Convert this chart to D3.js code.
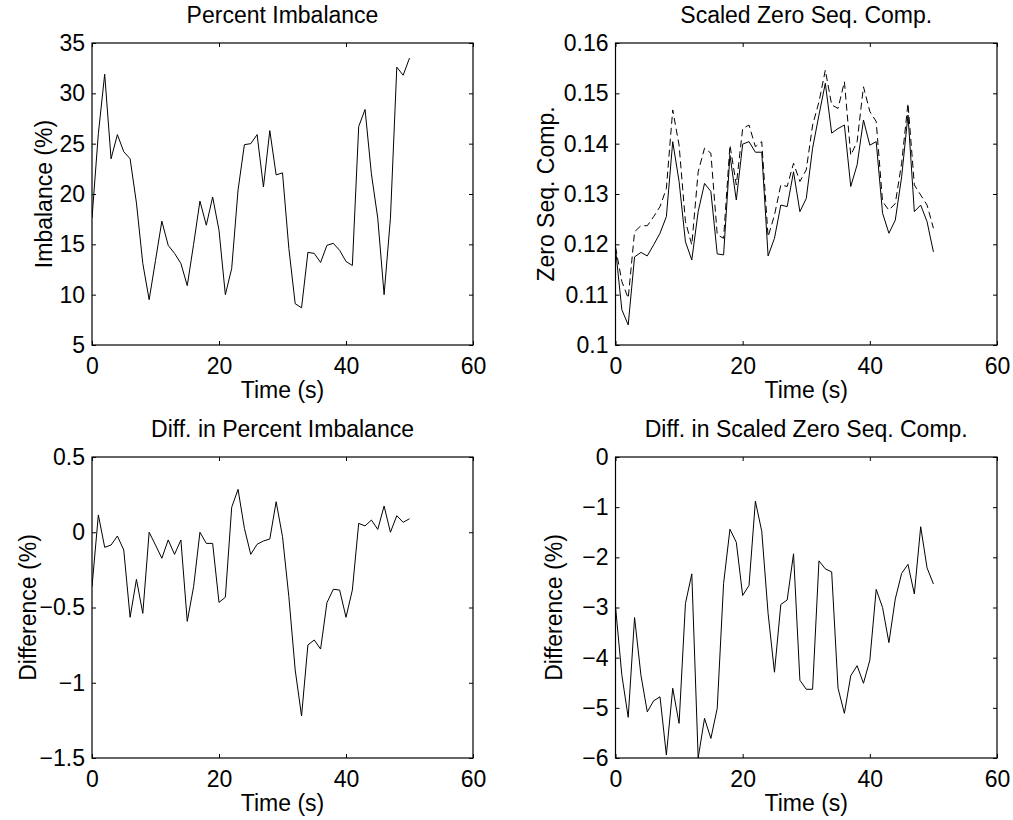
<!DOCTYPE html>
<html>
<head>
<meta charset="utf-8">
<script src="https://cdn.jsdelivr.net/npm/d3@7"></script>
<style>
  body { margin: 0; background: #fff; }
  svg { display: block; }
  text { font-family: "Liberation Sans", Arial, Helvetica, sans-serif; fill: #000; }
</style>
</head>
<body>
<div id="chart"></div>
<script>
// time axis (s), one sample per second
const timeSec = [0,1,2,3,4,5,6,7,8,9,10,11,12,13,14,15,16,17,18,19,20,21,22,23,24,25,
  26,27,28,29,30,31,32,33,34,35,36,37,38,39,40,41,42,43,44,45,46,47,48,49,50];

// Percent Imbalance (%)
const imbalance = [17.6,26.0,31.9,23.5,25.9,24.2,23.5,19.1,13.1,9.5,13.4,17.3,14.9,14.1,13.1,10.9,
  15.0,19.3,16.9,19.7,16.4,10.0,12.6,20.4,24.9,25.0,25.9,20.7,26.3,21.9,22.1,14.6,9.1,8.7,
  14.2,14.1,13.2,14.9,15.1,14.4,13.3,12.9,26.7,28.4,22.0,17.6,10.0,17.6,32.6,31.8,33.5];

// Scaled zero sequence component, solid and dashed traces
const zeroSeqA = [0.1192,0.1070,0.1040,0.1175,0.1184,0.1177,0.1199,0.1222,0.1255,0.1404,0.1325,
  0.1205,0.1169,0.1265,0.1321,0.1305,0.1181,0.1179,0.1377,0.1288,0.1399,0.1404,0.1383,0.1383,
  0.1177,0.1212,0.1278,0.1275,0.1344,0.1265,0.1291,0.1391,0.1457,0.1520,0.1421,0.1430,0.1437,
  0.1315,0.1358,0.1447,0.1397,0.1404,0.1262,0.1222,0.1248,0.1334,0.1457,0.1265,0.1278,0.1245,0.1185];
const zeroSeqB = [0.1195,0.1126,0.1093,0.1225,0.1237,0.1237,0.1255,0.1275,0.1311,0.1467,0.1397,
  0.1245,0.1199,0.1344,0.1391,0.1381,0.1219,0.1212,0.1397,0.1318,0.1430,0.1437,0.1394,0.1404,
  0.1215,0.1258,0.1318,0.1315,0.1361,0.1325,0.1348,0.1437,0.1483,0.1546,0.1477,0.1470,0.1523,
  0.1377,0.1404,0.1513,0.1464,0.1444,0.1285,0.1268,0.1281,0.1361,0.1480,0.1318,0.1298,0.1278,0.1232];

// Difference in percent imbalance (%)
const diffImbalance = [-0.362,0.115,-0.100,-0.085,-0.025,-0.118,-0.565,-0.313,-0.539,0.0,-0.085,
  -0.173,-0.051,-0.147,-0.051,-0.592,-0.362,0.0,-0.074,-0.074,-0.466,-0.432,0.166,0.285,0.026,
  -0.147,-0.080,-0.058,-0.045,0.203,-0.029,-0.428,-0.915,-1.221,-0.749,-0.716,-0.776,-0.468,
  -0.379,-0.384,-0.565,-0.384,0.059,0.042,0.081,0.019,0.174,0.0,0.110,0.066,0.090];

// Difference in scaled zero sequence component (%)
const diffZeroSeq = [-2.98,-4.35,-5.19,-3.20,-4.35,-5.08,-4.86,-4.78,-5.94,-4.61,-5.31,-2.92,-2.33,
  -6.00,-5.21,-5.61,-5.01,-2.52,-1.44,-1.70,-2.76,-2.56,-0.88,-1.48,-3.12,-4.29,-2.94,-2.85,-1.93,
  -4.45,-4.63,-4.63,-2.07,-2.23,-2.29,-4.61,-5.11,-4.36,-4.16,-4.51,-4.05,-2.64,-3.00,-3.70,-2.83,
  -2.32,-2.14,-2.73,-1.39,-2.21,-2.53];

// tick values
const xTicks = [0, 20, 40, 60];
const yTicksImb = [5, 10, 15, 20, 25, 30, 35];
const yTicksZero = [0.1, 0.11, 0.12, 0.13, 0.14, 0.15, 0.16];
const yTicksDiffImb = [-1.5, -1, -0.5, 0, 0.5];
const yTicksDiffZero = [-6, -5, -4, -3, -2, -1, 0];

const titles = ["Percent Imbalance", "Scaled Zero Seq. Comp.", "Diff. in Percent Imbalance", "Diff. in Scaled Zero Seq. Comp."];
const yLabels = ["Imbalance (%)", "Zero Seq. Comp.", "Difference (%)", "Difference (%)"];
const xLabel = "Time (s)";

const width = 1013, height = 820;
const fontSize = 23;
const tickLen = 4;

const svg = d3.select("#chart").append("svg")
  .attr("width", width)
  .attr("height", height);

// minus sign like the original (U+2212)
const fmt = d => (d < 0 ? "\u2212" : "") + Math.abs(d);

function drawPanel(cfg) {
  const g = svg.append("g").attr("transform", `translate(${cfg.left},${cfg.top})`);
  const w = cfg.w, h = cfg.h;

  const x = d3.scaleLinear().domain([0, 60]).range([0, w]);
  const y = d3.scaleLinear().domain(cfg.yDomain).range([h, 0]);

  const line = d3.line()
    .x((d, i) => x(timeSec[i]))
    .y(d => y(d));

  g.append("clipPath").attr("id", "clip" + cfg.id)
    .append("rect").attr("width", w).attr("height", h);

  cfg.series.forEach(s => {
    g.append("path")
      .datum(s.values)
      .attr("clip-path", `url(#clip${cfg.id})`)
      .attr("fill", "none")
      .attr("stroke", "#000")
      .attr("stroke-width", 1)
      .attr("stroke-dasharray", s.dashed ? "7,4" : null)
      .attr("d", line);
  });

  // axes, ticks point inward like matlab
  const styleAxis = sel => {
    sel.select(".domain").remove();
    sel.selectAll("line").attr("stroke", "#000");
    sel.selectAll("text").style("font-size", fontSize + "px").attr("fill", "#000");
  };

  g.append("g").attr("transform", `translate(0,${h})`)
    .call(d3.axisBottom(x).tickValues(xTicks).tickFormat(fmt).tickSize(-tickLen).tickPadding(13))
    .call(styleAxis);
  g.append("g")
    .call(d3.axisTop(x).tickValues(xTicks).tickFormat("").tickSize(-tickLen))
    .call(styleAxis);
  g.append("g")
    .call(d3.axisLeft(y).tickValues(cfg.yTicks).tickFormat(fmt).tickSize(-tickLen).tickPadding(7))
    .call(styleAxis);
  g.append("g").attr("transform", `translate(${w},0)`)
    .call(d3.axisRight(y).tickValues(cfg.yTicks).tickFormat("").tickSize(-tickLen))
    .call(styleAxis);

  g.append("rect")
    .attr("width", w).attr("height", h)
    .attr("fill", "none").attr("stroke", "#000").attr("stroke-width", 1.2);

  g.append("text")
    .attr("x", w / 2).attr("y", -20)
    .attr("text-anchor", "middle")
    .style("font-size", fontSize + "px")
    .text(cfg.title);

  g.append("text")
    .attr("x", w / 2).attr("y", h + 53)
    .attr("text-anchor", "middle")
    .style("font-size", fontSize + "px")
    .text(xLabel);

  g.append("text")
    .attr("transform", `translate(${-cfg.yLabelOffset},${h / 2}) rotate(-90)`)
    .attr("text-anchor", "middle")
    .style("font-size", fontSize + "px")
    .text(cfg.yLabel);
}

const panels = [
  { id: 0, left: 92, top: 43, w: 381, h: 302, yDomain: [5, 35], yTicks: yTicksImb,
    series: [{ values: imbalance }], yLabelOffset: 40 },
  { id: 1, left: 615.5, top: 43, w: 381.5, h: 302, yDomain: [0.1, 0.16], yTicks: yTicksZero,
    series: [{ values: zeroSeqA }, { values: zeroSeqB, dashed: true }], yLabelOffset: 62 },
  { id: 2, left: 92, top: 457, w: 381, h: 301, yDomain: [-1.5, 0.5], yTicks: yTicksDiffImb,
    series: [{ values: diffImbalance }], yLabelOffset: 56 },
  { id: 3, left: 615.5, top: 457, w: 381.5, h: 301, yDomain: [-6, 0], yTicks: yTicksDiffZero,
    series: [{ values: diffZeroSeq }], yLabelOffset: 54 }
];

panels.forEach((p, i) => {
  p.title = titles[i];
  p.yLabel = yLabels[i];
  drawPanel(p);
});
</script>
</body>
</html>
